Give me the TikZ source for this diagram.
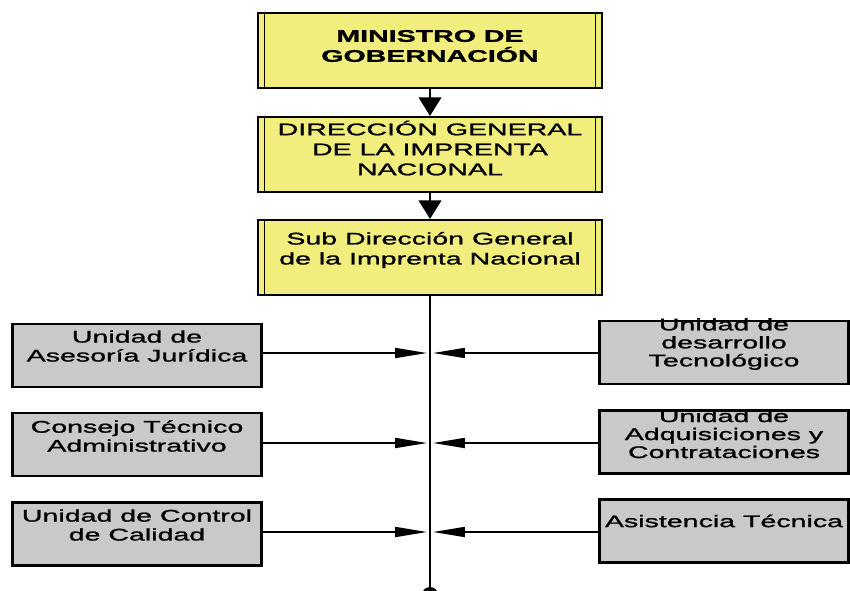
\documentclass[tikz,border=0pt]{standalone}
\usepackage{fontspec}
\setmainfont{Liberation Sans}
\newfontfamily\widefont[FakeStretch=1.7, FakeBold=1.3]{Liberation Sans}
\usetikzlibrary{arrows.meta}
\definecolor{boxyellow}{HTML}{F2EE7E}
\definecolor{boxgray}{HTML}{C9C9C9}
\tikzset{
  ybox/.style={draw=black, fill=boxyellow, line width=1.8pt, minimum width=258pt, minimum height=56pt,
    path picture={
      \draw[line width=1.3pt] ([xshift=4.8pt]path picture bounding box.north west) -- ([xshift=4.8pt]path picture bounding box.south west);
      \draw[line width=1.3pt] ([xshift=-4.8pt]path picture bounding box.north east) -- ([xshift=-4.8pt]path picture bounding box.south east);
    }},
  gbox/.style={draw=black, fill=boxgray, line width=1.8pt, minimum width=187pt, minimum height=47pt},
  ytxt/.style={align=center, font=\widefont\fontsize{12.6}{15}\selectfont, inner sep=0pt},
  gtxt/.style={align=center, font=\widefont\fontsize{12.6}{14.2}\selectfont, inner sep=0pt},
  rtxt/.style={align=center, font=\widefont\fontsize{12.6}{13.5}\selectfont, inner sep=0pt},
  darr/.style={line width=1.5pt, -{Triangle[length=14pt,width=17pt]}},
  harr/.style={line width=1.3pt, -{Triangle[length=24pt,width=7.5pt]}},
  spine/.style={line width=1.5pt}
}
\begin{document}
\begin{tikzpicture}[x=0.75pt,y=-0.75pt]
\useasboundingbox (0,0) rectangle (850,590);
\clip (0,0) rectangle (850,590);
% top boxes
\node[ybox] (m) at (430,50.5) {};
\node[ybox] (d) at (430,154.5) {};
\node[ybox] (s) at (430,257.5) {};
\node[ytxt] (tm) at (430,46) {\bfseries MINISTRO DE\\\bfseries GOBERNACIÓN};
\node[ytxt] (td) at (430,148) {DIRECCIÓN GENERAL\\DE LA IMPRENTA\\NACIONAL};
\node[ytxt] (ts) at (430,250) {Sub Dirección General\\de la Imprenta Nacional};
\draw[darr] (m.south) -- (d.north);
\draw[darr] (d.south) -- (s.north);
% spine
\coordinate (bot) at (430,592);
\draw[spine] (s.south) -- (bot);
\fill (430,595) circle (6pt);
% left boxes
\node[gbox] (l1) at (137,355.5) {};
\node[gbox] (l2) at (137,444.5) {};
\node[gbox] (l3) at (137,534) {};
\node[gtxt] (tl1) at (137,346) {Unidad de\\Asesoría Jurídica};
\node[gtxt] (tl2) at (137,436) {Consejo Técnico\\Administrativo};
\node[gtxt] (tl3) at (137,525) {Unidad de Control\\de Calidad};
% right boxes
\node[gbox] (r1) at (724,352.5) {};
\node[gbox] (r2) at (724,442) {};
\node[gbox] (r3) at (724,531) {};
\node[rtxt] (tr1) at (724,344) {Unidad de\\desarrollo\\Tecnológico};
\node[rtxt] (tr2) at (724,434) {Unidad de\\Adquisiciones y\\Contrataciones};
\node[rtxt] (tr3) at (724,521) {Asistencia Técnica};
% junction points on the spine
\coordinate (j1) at (430,353);
\coordinate (j2) at (430,443);
\coordinate (j3) at (430,532);
\draw[harr] (l1.east |- j1) -- ([xshift=-2.2pt]j1);
\draw[harr] (l2.east |- j2) -- ([xshift=-2.2pt]j2);
\draw[harr] (l3.east |- j3) -- ([xshift=-2.2pt]j3);
\draw[harr] (r1.west |- j1) -- ([xshift=2.2pt]j1);
\draw[harr] (r2.west |- j2) -- ([xshift=2.2pt]j2);
\draw[harr] (r3.west |- j3) -- ([xshift=2.2pt]j3);
\end{tikzpicture}
\end{document}
